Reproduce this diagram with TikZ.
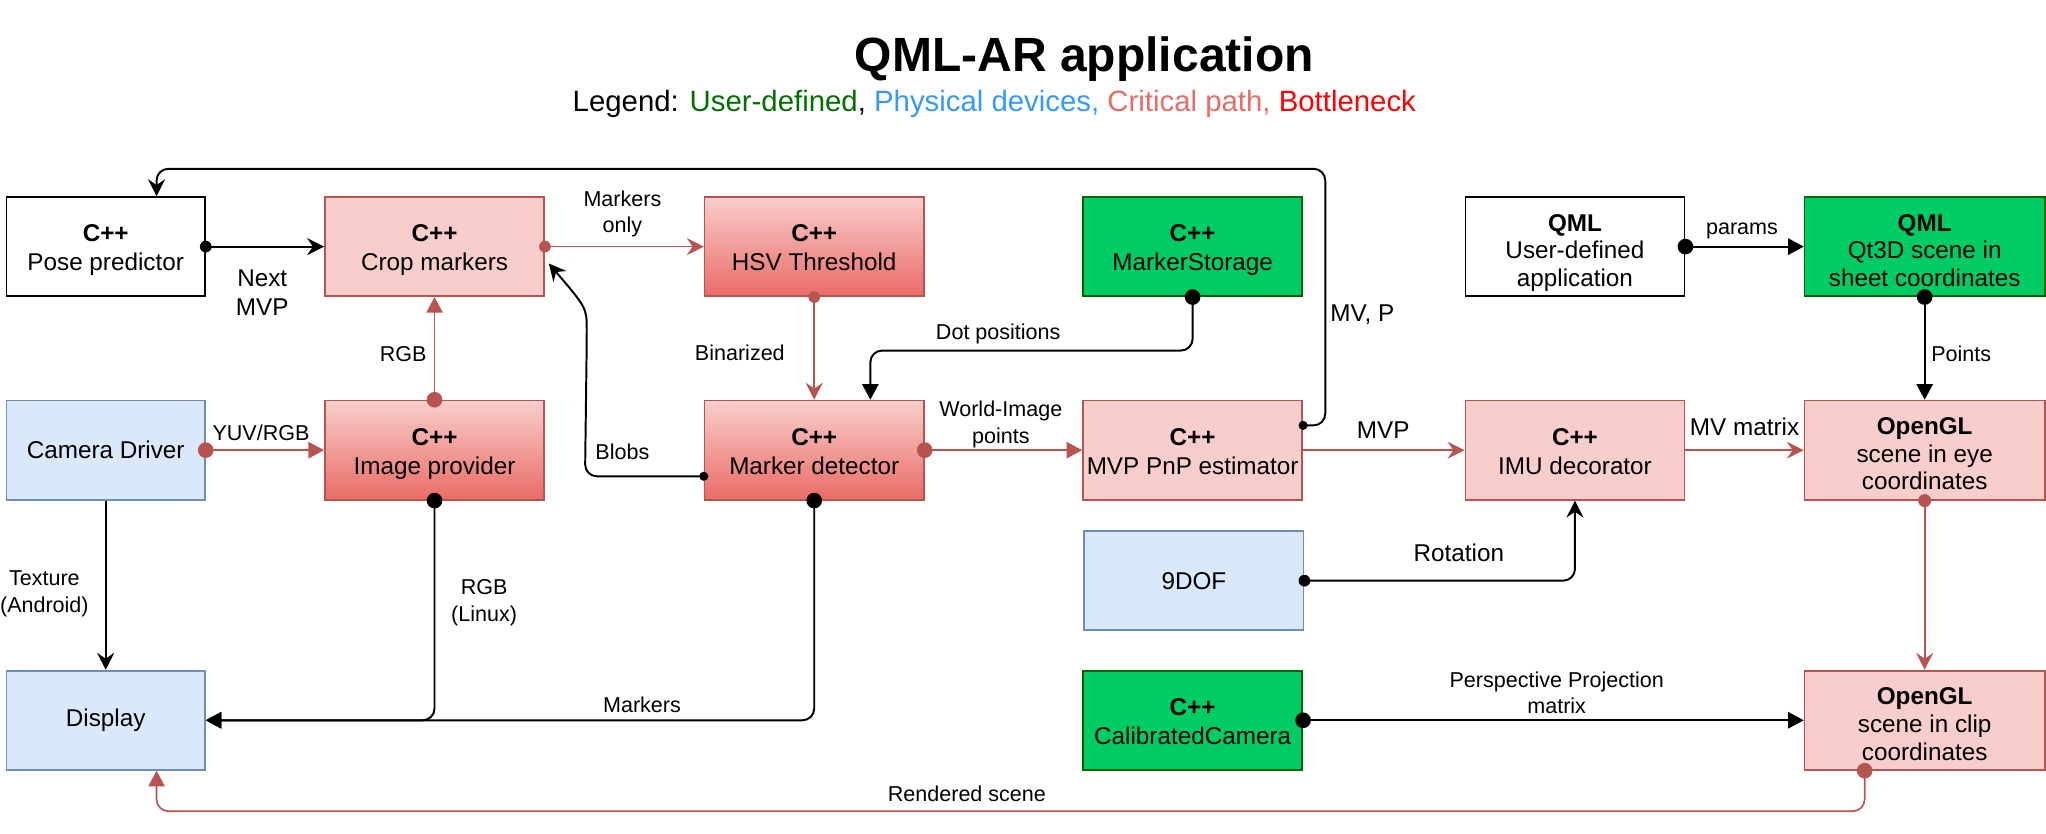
\documentclass[tikz,border=0pt]{standalone}
\usepackage{fontspec}
\setmainfont{Liberation Sans}
\usetikzlibrary{arrows.meta,calc}
\definecolor{redstroke}{HTML}{B85450}
\definecolor{pinkfill}{HTML}{F8CECC}
\definecolor{gradbot}{HTML}{EA6B66}
\definecolor{greenfill}{HTML}{00CC66}
\definecolor{greenstroke}{HTML}{006600}
\definecolor{bluefill}{HTML}{DAE8FC}
\definecolor{bluestroke}{HTML}{6C8EBF}
\definecolor{leggreen}{HTML}{007000}
\definecolor{legblue}{HTML}{3399FF}
\definecolor{legcrit}{HTML}{EA6B66}
\definecolor{legbott}{HTML}{FF0000}
\begin{document}
\begin{tikzpicture}[x=1pt,y=-1pt,
  box/.style={draw, line width=1.3pt, minimum height=76pt, minimum width=168pt, inner sep=0pt, align=center,
    font=\fontsize{18.6}{22.3}\selectfont},
  two/.style={text height=42pt, text depth=5pt},
  three/.style={font=\fontsize{18.6}{21.2}\selectfont, text height=66pt, text depth=5pt},
  whitebox/.style={box, fill=white, draw=black},
  pinkbox/.style={box, fill=pinkfill, draw=redstroke},
  gradbox/.style={box, top color=pinkfill, bottom color=gradbot, draw=redstroke},
  greenbox/.style={box, fill=greenfill, draw=greenstroke},
  bluebox/.style={box, fill=bluefill, draw=bluestroke},
  lbl/.style={font=\fontsize{16.5}{20.5}\selectfont, align=center, inner sep=0pt},
  biglbl/.style={font=\fontsize{18.6}{22.3}\selectfont, align=center, inner sep=0pt},
  blkline/.style={line width=1.5pt, draw=black},
  redline/.style={line width=1.3pt, draw=redstroke},
  cls/.style={-{Stealth[length=13pt,width=13pt,inset=4.5pt]}},
  tri/.style={-{Triangle[length=12pt,width=12.5pt]}},
  bdot/.style={fill=black},
  rdot/.style={fill=redstroke},
]
\useasboundingbox (0,0) rectangle (1568,639);

% title and legend
\node[font=\bfseries\fontsize{36.8}{40}\selectfont] (title) at (831,45) {QML-AR application};
\node[font=\fontsize{22.5}{26}\selectfont] (legend) at (762,80) {Legend: \textcolor{leggreen}{User-defined}, \textcolor{legblue}{Physical devices,} \textcolor{legcrit}{Critical path,} \textcolor{legbott}{Bottleneck}};

% boxes
\node[whitebox, two, minimum width=152pt] (pose) at (81,189) {\textbf{C++}\\Pose predictor};
\node[pinkbox, two] (crop) at (333,189) {\textbf{C++}\\Crop markers};
\node[gradbox, two] (hsv) at (624,189) {\textbf{C++}\\HSV Threshold};
\node[greenbox, two] (mstore) at (914,189) {\textbf{C++}\\MarkerStorage};
\node[whitebox, three] (qmlapp) at (1207,189) {\textbf{QML}\\User-defined\\application};
\node[greenbox, three, minimum width=184pt] (qt3d) at (1475,189) {\textbf{QML}\\Qt3D scene in\\sheet coordinates};

\node[bluebox, minimum width=152pt] (camdrv) at (81,345) {Camera Driver};
\node[gradbox, two] (imgprov) at (333,345) {\textbf{C++}\\Image provider};
\node[gradbox, two] (mdet) at (624,345) {\textbf{C++}\\Marker detector};
\node[pinkbox, two] (mvp) at (914,345) {\textbf{C++}\\MVP PnP estimator};
\node[pinkbox, two] (imu) at (1207,345) {\textbf{C++}\\IMU decorator};
\node[pinkbox, three, minimum width=184pt] (eye) at (1475,345) {\textbf{OpenGL}\\scene in eye\\coordinates};

\node[bluebox] (dof) at (915,445) {9DOF};

\node[bluebox, minimum width=152pt] (display) at (81,552) {Display};
\node[greenbox, two] (calib) at (914,552) {\textbf{C++}\\CalibratedCamera};
\node[pinkbox, three, minimum width=184pt] (clip) at (1475,552) {\textbf{OpenGL}\\scene in clip\\coordinates};

% connectors
\draw[blkline,cls] (pose.east) -- (crop.west);
\fill[bdot] (pose.east) circle (4.5);
\node[biglbl] (lnext) at (201,224) {Next\\MVP};

\draw[blkline,cls,rounded corners=9pt] ($(mvp.east)+(0,-19)$) -- ++(17,0) |- ($(pose.north)+(39,-21)$) -- ($(pose.north)+(39,0)$);
\fill[bdot] ($(mvp.east)+(0,-19)$) circle (3.5);
\node[biglbl] (lmvp2) at (1044,241) {MV, P};

\draw[redline,cls] (crop.east) -- (hsv.west);
\fill[rdot] (crop.east) circle (4.5);
\node[lbl] (lmo) at (477,164) {Markers\\only};

\draw[redline,tri] (imgprov.north) -- (crop.south);
\fill[rdot] (imgprov.north) circle (6);
\node[lbl] (lrgb) at (309,271) {RGB};

\draw[redline,tri] (camdrv.east) -- (imgprov.west);
\fill[rdot] (camdrv.east) circle (6);
\node[lbl] (lyuv) at (200,332) {YUV/RGB};

\draw[redline,cls] (hsv.south) -- (mdet.north);
\fill[rdot] (hsv.south) circle (4.5);
\node[lbl] (lbin) at (567,270) {Binarized};

\draw[blkline,tri,rounded corners=9pt] (mstore.south) -- ++(0,41) -| ($(mdet.north)+(43,0)$);
\fill[bdot] (mstore.south) circle (6);
\node[lbl] (ldot) at (765,256) {Dot positions};

\draw[blkline,cls,rounded corners=9pt] ($(mdet.west)+(0,20)$) -- ($(mdet.west)+(-91,20)$) -- ($(crop.east)+(32,73)$) .. controls ($(crop.east)+(32,47)$) .. ($(crop.east)+(3,13)$);
\fill[bdot] ($(mdet.west)+(0,20)$) circle (3.5);
\node[lbl] (lblobs) at (477,346) {Blobs};

\draw[redline,tri] (mdet.east) -- (mvp.west);
\fill[rdot] (mdet.east) circle (6);
\node[lbl] (lwip) at (767,325) {World-Image\\points};

\draw[redline,cls] (mvp.east) -- (imu.west);
\node[biglbl] (lmvp) at (1060,330) {MVP};

\draw[redline,cls] (imu.east) -- (eye.west);
\node[biglbl] (lmvm) at (1337,327) {MV matrix};

\draw[blkline,tri] (qmlapp.east) -- (qt3d.west);
\fill[bdot] (qmlapp.east) circle (6);
\node[lbl] (lparams) at (1335,177) {params};

\draw[blkline,tri] (qt3d.south) -- (eye.north);
\fill[bdot] (qt3d.south) circle (6);
\node[lbl] (lpoints) at (1503,271) {Points};

\draw[redline,cls] (eye.south) -- (clip.north);
\fill[rdot] (eye.south) circle (5);

\draw[blkline,cls,rounded corners=9pt] (dof.east) -| (imu.south);
\fill[bdot] (dof.east) circle (4.5);
\node[biglbl] (lrot) at (1118,424) {Rotation};

\draw[blkline,tri] (calib.east) -- (clip.west);
\fill[bdot] (calib.east) circle (6);
\node[lbl] (lpers) at (1193,531) {Perspective Projection\\matrix};

\draw[blkline,cls] (camdrv.south) -- (display.north);
\node[lbl] (ltex) at (34,455) {Texture\\(Android)};

\draw[blkline,tri,rounded corners=9pt] (imgprov.south) |- (display.east);
\fill[bdot] (imgprov.south) circle (6);
\node[lbl] (llin) at (371,462) {RGB\\(Linux)};

\draw[blkline,tri,rounded corners=9pt] (mdet.south) |- (display.east);
\fill[bdot] (mdet.south) circle (6);
\node[lbl] (lmark) at (492,540) {Markers};

\draw[redline,tri,rounded corners=9pt] ($(clip.south)+(-46,0)$) -- ++(0,31) -| ($(display.south)+(39,0)$);
\fill[rdot] ($(clip.south)+(-46,0)$) circle (6);
\node[lbl] (lrend) at (741,608) {Rendered scene};
\end{tikzpicture}
\end{document}
